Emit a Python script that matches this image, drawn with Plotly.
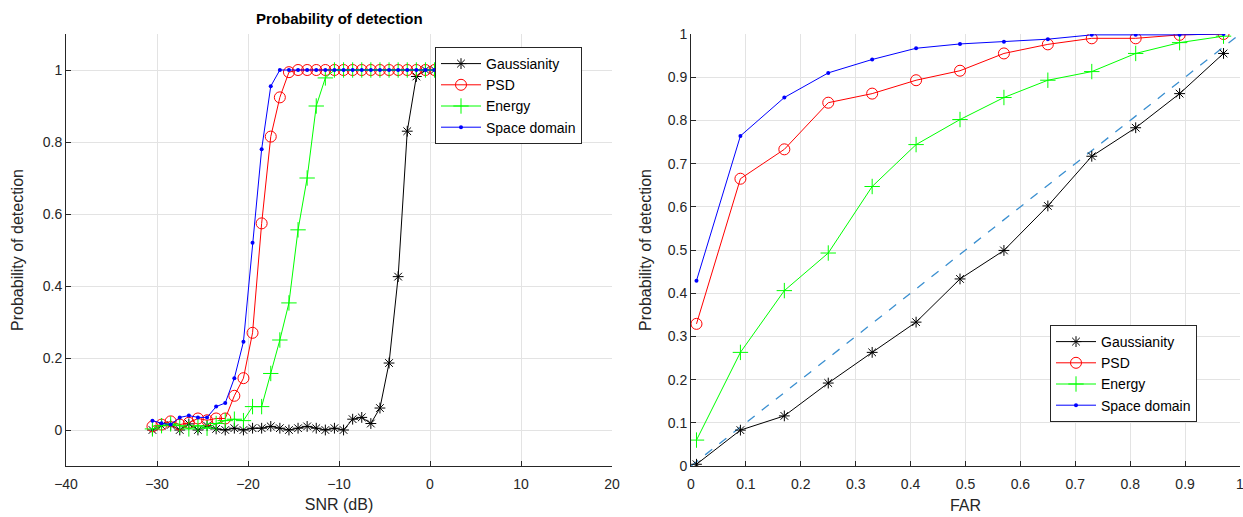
import plotly.graph_objects as go

# ---------------- data: left plot (SNR sweep) ----------------
snr_db = [-30.5 + k for k in range(32)]

pd_gauss_snr = [0.0, 0.012, 0.014, 0.0, 0.017, 0.0, 0.012, 0.003, 0.0, 0.005, 0.0, 0.005,
                0.005, 0.01, 0.005, 0.0, 0.005, 0.01, 0.005, 0.0, 0.005, 0.0, 0.03, 0.035,
                0.018, 0.061, 0.186, 0.426, 0.83, 0.982, 1.0, 1.0]
pd_psd_snr = [0.01, 0.015, 0.024, 0.015, 0.02, 0.032, 0.027, 0.032, 0.032, 0.095, 0.144, 0.27,
              0.574, 0.815, 0.924, 0.994, 1.0, 1.0, 1.0, 1.0, 1.0, 1.0, 1.0, 1.0,
              1.0, 1.0, 1.0, 1.0, 1.0, 1.0, 1.0, 1.0]
pd_energy_snr = [0.003, 0.012, 0.017, 0.012, 0.003, 0.012, 0.005, 0.018, 0.026, 0.03, 0.026, 0.065,
                 0.065, 0.157, 0.25, 0.353, 0.556, 0.70, 0.90, 0.978, 1.0, 1.0, 1.0, 1.0,
                 1.0, 1.0, 1.0, 1.0, 1.0, 1.0, 1.0, 1.0]
pd_space_snr = [0.026, 0.019, 0.015, 0.035, 0.04, 0.035, 0.035, 0.065, 0.075, 0.144, 0.245, 0.52,
                0.78, 0.955, 1.0, 1.0, 1.0, 1.0, 1.0, 1.0, 1.0, 1.0, 1.0, 1.0,
                1.0, 1.0, 1.0, 1.0, 1.0, 1.0, 1.0, 1.0]

# ---------------- data: right plot (ROC) ----------------
far = [0.01, 0.09, 0.17, 0.25, 0.33, 0.41, 0.49, 0.57, 0.65, 0.73, 0.81, 0.89, 0.97]
roc_gauss = [0.004, 0.083, 0.116, 0.192, 0.263, 0.333, 0.433, 0.499, 0.602, 0.717, 0.783, 0.862, 0.955]
roc_psd = [0.329, 0.665, 0.733, 0.841, 0.862, 0.893, 0.915, 0.955, 0.976, 0.990, 0.990, 0.998, 1.0]
roc_energy = [0.06, 0.263, 0.406, 0.493, 0.647, 0.744, 0.802, 0.853, 0.893, 0.913, 0.955, 0.980, 0.995]
roc_space = [0.429, 0.764, 0.853, 0.910, 0.941, 0.967, 0.977, 0.982, 0.988, 0.998, 0.998, 0.998, 1.0]
chance_x = [0, 1]
chance_y = [0, 1]

names = ["Gaussianity", "PSD", "Energy", "Space domain"]
colors = ["#000000", "#ff0000", "#00ff00", "#0000ff"]
markers = [
    dict(symbol="asterisk-open", size=9, color="#000000", line=dict(color="#000000", width=1)),
    dict(symbol="circle-open", size=11, color="#ff0000", line=dict(color="#ff0000", width=1)),
    dict(symbol="cross-thin-open", size=11, color="#00ff00", line=dict(color="#00ff00", width=1)),
    dict(symbol="circle", size=4, color="#0000ff", line=dict(width=0)),
]

W, H = 1243, 517
fig = go.Figure()

left_series = [pd_gauss_snr, pd_psd_snr, pd_energy_snr, pd_space_snr]
for name, col, mk, ys in zip(names, colors, markers, left_series):
    fig.add_trace(go.Scatter(x=snr_db, y=ys, mode="lines+markers", name=name,
                             line=dict(color=col, width=1), marker=mk,
                             xaxis="x", yaxis="y", legend="legend"))

fig.add_trace(go.Scatter(x=chance_x, y=chance_y, mode="lines", showlegend=False,
                         line=dict(color="#3a8fd0", width=1.3, dash="dash"),
                         xaxis="x2", yaxis="y2"))
right_series = [roc_gauss, roc_psd, roc_energy, roc_space]
for name, col, mk, ys in zip(names, colors, markers, right_series):
    fig.add_trace(go.Scatter(x=far, y=ys, mode="lines+markers", name=name,
                             line=dict(color=col, width=1), marker=mk,
                             xaxis="x2", yaxis="y2", legend="legend2"))

axcol = "#262626"
font = "Arial, Liberation Sans, Helvetica, sans-serif"
common = dict(showgrid=True, gridcolor="#e3e3e3", gridwidth=1, zeroline=False,
              showline=True, linecolor=axcol, linewidth=1, ticks="inside",
              ticklen=5, tickcolor=axcol, tickfont=dict(size=14, color=axcol, family=font),
              mirror=False, automargin=False, ticklabeloverflow="allow")

ydom = [1 - 466 / H, 1 - 34 / H]
fig.update_layout(
    width=W, height=H,
    margin=dict(l=0, r=0, t=0, b=0),
    paper_bgcolor="white", plot_bgcolor="white",
    font=dict(family=font, color=axcol),
    xaxis=dict(domain=[66 / W, 612 / W], range=[-40, 20], tickvals=[-40, -30, -20, -10, 0, 10, 20],
               ticklabelstandoff=5,
               title=dict(text="SNR (dB)", font=dict(size=16, color=axcol), standoff=8), **common),
    yaxis=dict(domain=ydom, range=[-0.1, 1.1], tickvals=[0, 0.2, 0.4, 0.6, 0.8, 1],
               ticktext=["0", "0.2", "0.4", "0.6", "0.8", "1"],
               title=dict(text="Probability of detection", font=dict(size=16, color=axcol), standoff=15),
               **common),
    xaxis2=dict(domain=[691 / W, 1240 / W], range=[0, 1], tickvals=[i / 10 for i in range(11)],
                ticktext=["0", "0.1", "0.2", "0.3", "0.4", "0.5", "0.6", "0.7", "0.8", "0.9", "1"],
                anchor="y2", ticklabelstandoff=5,
                title=dict(text="FAR", font=dict(size=16, color=axcol), standoff=9), **common),
    yaxis2=dict(domain=ydom, range=[0, 1], tickvals=[i / 10 for i in range(11)],
                ticktext=["0", "0.1", "0.2", "0.3", "0.4", "0.5", "0.6", "0.7", "0.8", "0.9", "1"],
                anchor="x2",
                title=dict(text="Probability of detection", font=dict(size=16, color=axcol), standoff=12),
                **common),
    legend=dict(x=435 / W, y=1 - 47 / H, xanchor="left", yanchor="top",
                bgcolor="white", bordercolor=axcol, borderwidth=1,
                font=dict(size=14, color="#000000", family=font), tracegroupgap=0,
                itemwidth=40),
    legend2=dict(x=1050 / W, y=1 - 325 / H, xanchor="left", yanchor="top",
                 bgcolor="white", bordercolor=axcol, borderwidth=1,
                 font=dict(size=14, color="#000000", family=font), tracegroupgap=0,
                 itemwidth=40),
    annotations=[dict(text="<b>Probability of detection</b>", x=(66 + 612) / 2 / W, y=1 - 18 / H,
                      xref="paper", yref="paper", showarrow=False, xanchor="center", yanchor="middle",
                      font=dict(size=15, color="#000000", family=font))],
)

fig.write_html("out.html", config={"displayModeBar": False},
               post_script="document.body.style.margin='0';document.body.style.overflow='hidden';")
